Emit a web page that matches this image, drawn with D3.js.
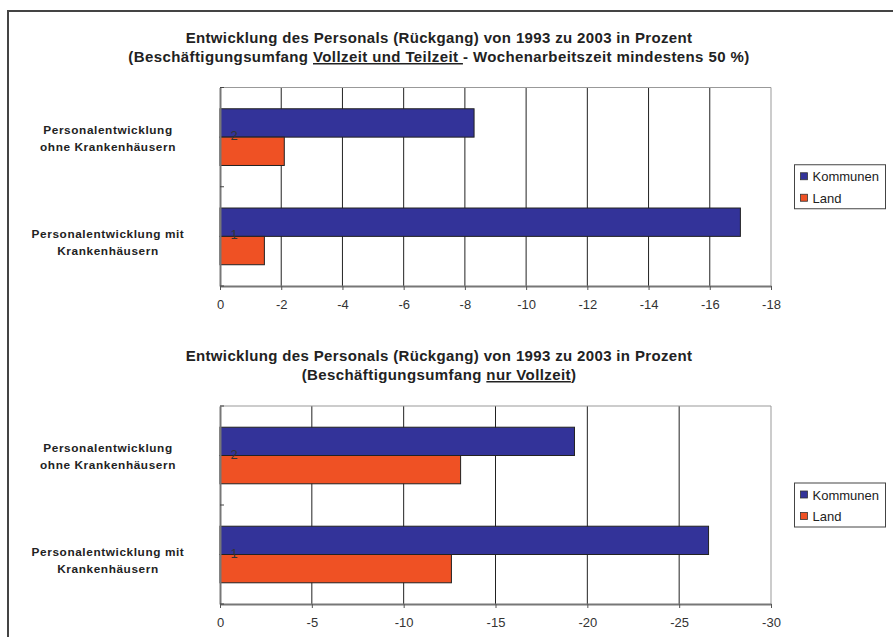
<!DOCTYPE html>
<html>
<head>
<meta charset="utf-8">
<script src="https://cdn.jsdelivr.net/npm/d3@7"></script>
<style>
  html, body { margin: 0; padding: 0; background: #fff; }
  svg { display: block; font-family: "Liberation Sans", Arial, sans-serif; }
</style>
</head>
<body>
<svg id="chart" width="893" height="637"></svg>
<script>
// Categories (bottom to top) and their numeric ids
const categoryIds = ["1", "2"];
const categoryLabels = [
  ["Personalentwicklung mit", "Krankenhäusern"],
  ["Personalentwicklung", "ohne Krankenhäusern"]
];
const seriesNames = ["Kommunen", "Land"];
const seriesColors = ["#333399", "#EF5124"];

// Full time and part time (>= 50 %)
const kommunenAll = [-17.0, -8.3];
const landAll = [-1.45, -2.1];
const ticksAll = [0, -2, -4, -6, -8, -10, -12, -14, -16, -18];

// Full time only
const kommunenFull = [-26.6, -19.3];
const landFull = [-12.6, -13.1];
const ticksFull = [0, -5, -10, -15, -20, -25, -30];

const svg = d3.select("#chart");

// Outer frame
svg.append("path")
  .attr("d", "M8,637 V11 H893")
  .attr("fill", "none").attr("stroke", "#444").attr("stroke-width", 2);

function drawChart(cfg) {
  const g = svg.append("g");
  const x = d3.scaleLinear().domain([0, cfg.ticks[cfg.ticks.length - 1]]).range([220, 771]);
  const y0 = d3.scaleBand().domain(categoryIds.slice().reverse())
    .range([cfg.top, cfg.bottom]).paddingInner(1.5 / 3.5).paddingOuter(0.75 / 3.5);
  const y1 = d3.scaleBand().domain(seriesNames).range([0, y0.bandwidth()]);
  const full = d3.scaleBand().domain(categoryIds.slice().reverse()).range([cfg.top, cfg.bottom]);

  // Title
  const t = g.append("text").attr("text-anchor", "middle")
    .attr("font-weight", "bold").attr("font-size", 15).attr("fill", "#222");
  t.append("tspan").attr("x", 439).attr("y", cfg.titleY)
    .attr("letter-spacing", 0.35).text(cfg.title1);
  const l2 = t.append("tspan").attr("x", 439).attr("y", cfg.titleY + 19)
    .attr("letter-spacing", 0.4);
  cfg.title2.forEach(p => {
    const s = l2.append("tspan").text(p.text);
    if (p.u) s.attr("text-decoration", "underline");
  });

  // Gridlines
  g.append("g").selectAll("line").data(cfg.ticks.slice(1, -1)).join("line")
    .attr("x1", d => x(d)).attr("x2", d => x(d))
    .attr("y1", cfg.top).attr("y2", cfg.bottom)
    .attr("stroke", "#222").attr("stroke-width", 1);

  // Plot frame (top, right)
  g.append("path")
    .attr("d", `M${x.range()[0]},${cfg.top}H${x.range()[1]}V${cfg.bottom}`)
    .attr("fill", "none").attr("stroke", "#999").attr("stroke-width", 1);

  // Bars
  const rows = categoryIds.map((id, i) => ({ id, values: [cfg.kommunen[i], cfg.land[i]] }));
  const grp = g.append("g").selectAll("g").data(rows).join("g")
    .attr("transform", d => `translate(0,${y0(d.id)})`);
  grp.selectAll("rect").data(d => d.values.map((v, k) => ({ v, s: seriesNames[k], c: seriesColors[k] })))
    .join("rect")
    .attr("x", d => x(0)).attr("y", d => y1(d.s))
    .attr("width", d => x(d.v) - x(0)).attr("height", y1.bandwidth())
    .attr("fill", d => d.c).attr("stroke", "#222").attr("stroke-width", 1);

  // Category ids inside plot
  g.append("g").selectAll("text").data(categoryIds).join("text")
    .attr("x", 234).attr("y", d => full(d) + full.bandwidth() / 2 + 3)
    .attr("text-anchor", "middle").attr("font-size", 13).attr("fill", "#333")
    .text(d => d);

  // Axes
  const xAxis = d3.axisBottom(x).tickValues(cfg.ticks).tickSize(4).tickSizeOuter(0)
    .tickFormat(d => d === 0 ? "0" : d3.format("d")(d).replace("−", "-"));
  const ax = g.append("g").attr("transform", `translate(0,${cfg.bottom})`).call(xAxis);
  ax.select(".domain").attr("stroke", "#777").attr("stroke-width", 2);
  ax.selectAll(".tick line").attr("stroke", "#555");
  ax.selectAll(".tick text").attr("font-size", 13).attr("fill", "#333")
    .attr("font-family", "Liberation Sans, Arial, sans-serif").attr("y", 10).attr("dy", "1.0em");

  const yAxis = d3.axisLeft(full).tickValues([]).tickSize(0).tickSizeOuter(0);
  const ay = g.append("g").attr("transform", `translate(${x(0)},0)`).call(yAxis);
  ay.select(".domain").attr("stroke", "#777").attr("stroke-width", 2);
  const edges = [cfg.top, (cfg.top + cfg.bottom) / 2, cfg.bottom];
  ay.selectAll(".edge").data(edges).join("line")
    .attr("x1", 0).attr("x2", 4).attr("y1", d => d).attr("y2", d => d)
    .attr("stroke", "#444");

  // Category labels
  const cl = g.append("g").selectAll("text").data(categoryIds).join("text")
    .attr("text-anchor", "middle").attr("font-weight", "bold")
    .attr("font-size", 11.8).attr("letter-spacing", 0.6).attr("fill", "#222");
  cl.each(function (d, i) {
    const cy = full(d) + full.bandwidth() / 2 + (i === 0 ? 6 : 1);
    categoryLabels[i].forEach((line, j) => {
      d3.select(this).append("tspan").attr("x", 108)
        .attr("y", cy - 8.5 + 17 * j + 4).text(line);
    });
  });

  // Legend
  const cy = (cfg.top + cfg.bottom) / 2;
  const lg = g.append("g").attr("transform", `translate(794.5,${cy - 22})`);
  lg.append("rect").attr("width", 91).attr("height", 44)
    .attr("fill", "#fff").attr("stroke", "#444").attr("stroke-width", 1);
  seriesNames.forEach((s, k) => {
    lg.append("rect").attr("x", 6).attr("y", 8 + k * 21.5).attr("width", 7).attr("height", 7)
      .attr("fill", seriesColors[k]).attr("stroke", "#333").attr("stroke-width", 0.8);
    lg.append("text").attr("x", 18).attr("y", 16.5 + k * 21.5)
      .attr("font-size", 13).attr("fill", "#222").text(s);
  });
}

drawChart({
  top: 87.5, bottom: 286,
  titleY: 43,
  title1: "Entwicklung des Personals (Rückgang) von 1993 zu 2003 in Prozent",
  title2: [
    { text: "(Beschäftigungsumfang " },
    { text: "Vollzeit und Teilzeit ", u: true },
    { text: "- Wochenarbeitszeit mindestens 50 %)" }
  ],
  kommunen: kommunenAll, land: landAll, ticks: ticksAll
});

drawChart({
  top: 406, bottom: 604,
  titleY: 361,
  title1: "Entwicklung des Personals (Rückgang) von 1993 zu 2003 in Prozent",
  title2: [
    { text: "(Beschäftigungsumfang " },
    { text: "nur Vollzeit", u: true },
    { text: ")" }
  ],
  kommunen: kommunenFull, land: landFull, ticks: ticksFull
});
</script>
</body>
</html>
